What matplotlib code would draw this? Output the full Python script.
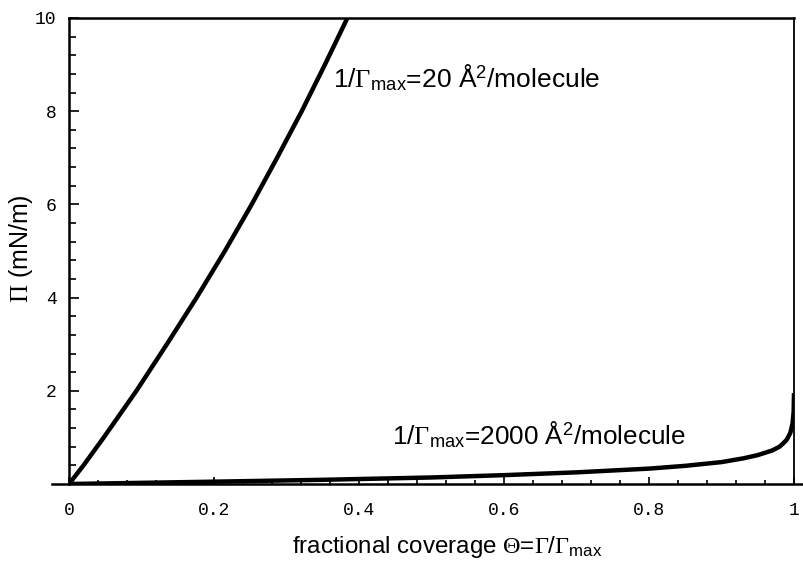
import matplotlib.pyplot as plt
import numpy as np
from matplotlib.ticker import MultipleLocator

plt.rcParams['font.family'] = 'Liberation Sans'
plt.rcParams['mathtext.fontset'] = 'custom'
plt.rcParams['mathtext.rm'] = 'Liberation Serif'
plt.rcParams['mathtext.sf'] = 'Liberation Sans'
plt.rcParams['mathtext.it'] = 'Liberation Serif:italic'

# 1/Gamma_max = 20 A^2/molecule
theta_20 = [0, 0.02, 0.048, 0.093, 0.135, 0.176, 0.215, 0.252, 0.287, 0.321, 0.353, 0.384]
pi_20 = [0, 0.4, 1, 2, 3, 4, 5, 6, 7, 8, 9, 10]

# 1/Gamma_max = 2000 A^2/molecule
theta_2000 = [0, 0.2, 0.35, 0.5, 0.6, 0.7, 0.8, 0.85, 0.9, 0.93, 0.95, 0.96,
              0.97, 0.98, 0.985, 0.99, 0.995, 0.998, 0.9995, 1.0]
pi_2000 = [0, 0.05, 0.09, 0.14, 0.19, 0.25, 0.33, 0.39, 0.47, 0.55, 0.62, 0.67,
           0.72, 0.80, 0.87, 0.95, 1.1, 1.3, 1.55, 1.95]

xticks = [0, 0.2, 0.4, 0.6, 0.8, 1]
xticklabels = ['0', '0.2', '0.4', '0.6', '0.8', '1']
yticks = [2, 4, 6, 8, 10]
yticklabels = ['2', '4', '6', '8', '10']

fig = plt.figure(figsize=(8.04, 5.65), dpi=100)
ax = fig.add_axes([69/804, 1-484/565, 725/804, 466/565])

ax.plot(theta_20, pi_20, color='black', lw=3.2, solid_capstyle='butt')
ax.plot(theta_2000, pi_2000, color='black', lw=3.2, solid_capstyle='butt')

ax.set_xlim(0, 1)
ax.set_ylim(0, 10)

ax.set_xticks(xticks)
ax.set_xticklabels(xticklabels, family='Liberation Mono', fontsize=13)
ax.set_yticks(yticks)
ax.set_yticklabels(yticklabels, family='Liberation Mono', fontsize=13)
ax.xaxis.set_minor_locator(MultipleLocator(0.04))
ax.yaxis.set_minor_locator(MultipleLocator(0.4))
ax.tick_params(axis='y', which='major', direction='in', length=7, width=1.2, pad=9)
ax.tick_params(axis='y', which='minor', direction='in', length=5, width=1.2)
ax.tick_params(axis='x', which='major', direction='in', length=5, width=1.2, pad=13)
ax.tick_params(axis='x', which='minor', direction='in', length=3, width=1.2)

for s in ['left', 'top']:
    ax.spines[s].set_linewidth(1.8)
ax.spines['right'].set_linewidth(1.3)
ax.spines['bottom'].set_visible(False)
ax.plot([-0.024, 1.02], [0, 0], transform=ax.transAxes, color='black',
        lw=1.8, clip_on=False)

ax.text(0.364, 8.52, r'1/$\Gamma_{\mathsf{max}}$=20 Å$^{\mathsf{2}}$/molecule',
        fontsize=19, ha='left', va='baseline')
ax.text(0.4455, 0.84, r'1/$\Gamma_{\mathsf{max}}$=2000 Å$^{\mathsf{2}}$/molecule',
        fontsize=18.8, ha='left', va='baseline')

fig.text(292/804, 1-553/565,
         r'fractional coverage $\Theta$=$\Gamma$/$\Gamma_{\mathsf{max}}$',
         fontsize=17.4, ha='left', va='baseline')
fig.text(21/804, 1-249/565, r'$\Pi$ (mN/m)', fontsize=18, rotation=90,
         ha='center', va='center')

fig.savefig('out.png', dpi=100)
